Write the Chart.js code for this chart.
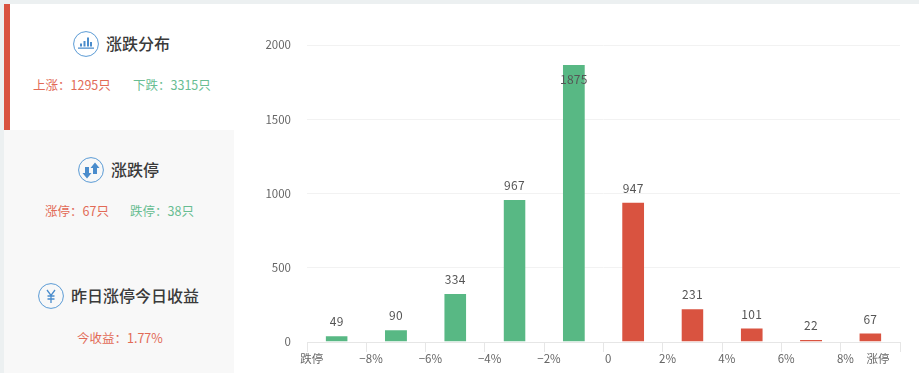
<!DOCTYPE html>
<html>
<head>
<meta charset="utf-8">
<script src="https://cdn.jsdelivr.net/npm/chart.js@4"></script>
<style>
    html, body { margin: 0; padding: 0; background: #fff; }
    body { position: relative; width: 919px; height: 373px; overflow: hidden; font-family: "Noto Sans CJK SC", sans-serif; }
    #topBar { position: absolute; left: 0; top: 0; width: 919px; height: 4px; background: #ecf0f1; }
    #leftBar { position: absolute; left: 0; top: 4px; width: 4px; height: 369px; background: #ecf0f1; }
    #redBar { position: absolute; left: 4px; top: 4px; width: 6px; height: 126px; background: #d95340; }
    #greyPanel { position: absolute; left: 4px; top: 130px; width: 230px; height: 243px; background: #f8f8f8; }
    .icon { position: absolute; width: 26px; height: 26px; }
    .title { position: absolute; font-size: 16px; line-height: 24px; font-weight: 500; color: #3a3a3a; white-space: nowrap; }
    .sub { position: absolute; font-size: 12.5px; line-height: 18px; white-space: nowrap; }
    .up { color: #e26a56; }
    .down { color: #68bd92; }
    #chartBox { position: absolute; left: 234px; top: 0; }
</style>
</head>
<body>
<div id="topBar"></div>
<div id="leftBar"></div>
<div id="greyPanel"></div>
<div id="redBar"></div>

<svg class="icon" style="left:73px;top:31px" viewBox="0 0 26 26">
    <circle cx="13" cy="13" r="12.4" fill="none" stroke="#5b9bd5" stroke-width="1"/>
    <path d="M5 16.500h16v1.300H5zM7 12.500h2v3H7zM10.500 10h2v5.500h-2zM14 6.500h2v9h-2zM17 11h2v4.500h-2z" fill="#4a8ccc"/>
</svg>
<div class="title" style="left:106px;top:31px">涨跌分布</div>
<div class="sub up" style="left:33px;top:76px">上涨：1295只</div>
<div class="sub down" style="left:133px;top:76px">下跌：3315只</div>

<svg class="icon" style="left:78px;top:157px" viewBox="0 0 26 26">
    <circle cx="13" cy="13" r="12.4" fill="none" stroke="#5b9bd5" stroke-width="1"/>
    <path d="M7 10h4v6h2.500l-4.500 5.500L4.500 16H7zM15 11H12.500L17 5.500 21.500 11H19v6h-4z" fill="#4a8ccc"/>
</svg>
<div class="title" style="left:111px;top:157px">涨跌停</div>
<div class="sub up" style="left:45px;top:202px">涨停：67只</div>
<div class="sub down" style="left:130px;top:202px">跌停：38只</div>

<svg class="icon" style="left:38px;top:283px" viewBox="0 0 26 26">
    <circle cx="13" cy="13" r="12.4" fill="none" stroke="#5b9bd5" stroke-width="1"/>
    <path d="M9 7l4 5.500L17 7M13 12.500V20M9.500 13h7M9.500 16h7" fill="none" stroke="#4a8ccc" stroke-width="1.300"/>
</svg>
<div class="title" style="left:71px;top:283px">昨日涨停今日收益</div>
<div class="sub up" style="left:77px;top:329px">今收益：1.77%</div>

<div id="chartBox"><canvas id="distChart" width="685" height="373"></canvas></div>

<script>
    // 数据
    const categories = ['跌停~-8%', '-8%~-6%', '-6%~-4%', '-4%~-2%', '-2%~0', '0~2%', '2%~4%', '4%~6%', '6%~8%', '8%~涨停'];
    const stockCounts = [49, 90, 334, 967, 1875, 947, 231, 101, 22, 67];
    const barColors = ['#58b884', '#58b884', '#58b884', '#58b884', '#58b884', '#d95340', '#d95340', '#d95340', '#d95340', '#d95340'];
    const xTickLabels = ['跌停', '−8%', '−6%', '−4%', '−2%', '0', '2%', '4%', '6%', '8%', '涨停'];

    // 数值标签：画在柱子上方，最高的一根放在柱子里面
    const valueLabels = {
        id: 'valueLabels',
        afterDatasetsDraw(chart) {
            const ctx = chart.ctx;
            const bars = chart.getDatasetMeta(0).data;
            ctx.save();
            ctx.font = '12px "Noto Sans CJK SC", sans-serif';
            ctx.letterSpacing = '0.3px';
            ctx.fillStyle = '#555';
            ctx.textAlign = 'center';
            ctx.textBaseline = 'middle';
            bars.forEach((bar, i) => {
                const inside = stockCounts[i] > 1500;
                ctx.fillText(stockCounts[i], bar.x, inside ? bar.y + 16 : bar.y - 13);
            });
            ctx.restore();
        }
    };

    new Chart(document.getElementById('distChart').getContext('2d'), {
        type: 'bar',
        data: {
            labels: categories,
            datasets: [{
                data: stockCounts,
                backgroundColor: barColors,
                barThickness: 22,
                // 原图柱顶比数值略低一点
                borderWidth: { top: 1.5, right: 0, bottom: 0, left: 0 },
                borderColor: 'rgba(0,0,0,0)',
                inflateAmount: 0
            }]
        },
        options: {
            responsive: false,
            animation: false,
            layout: { padding: { left: 0, right: 19, top: 45, bottom: 0 } },
            plugins: { legend: { display: false }, tooltip: { enabled: false } },
            scales: {
                x: {
                    grid: { offset: true, drawOnChartArea: false, color: '#e6e6e6', tickLength: 10 },
                    border: { color: '#e6e6e6' },
                    ticks: { display: false },
                    afterFit(scale) { scale.height = 10; }
                },
                // 刻度文字和刻度线不对齐，所以单独用一根轴来放文字
                xLabels: {
                    type: 'linear',
                    axis: 'x',
                    position: 'bottom',
                    offset: false,
                    min: 0,
                    max: 10,
                    grid: { display: false, drawTicks: false, tickLength: 0 },
                    border: { display: false },
                    ticks: {
                        autoSkip: false,
                        maxRotation: 0,
                        padding: 0,
                        color: '#666',
                        font: { size: 11.5, family: '"Noto Sans CJK SC", sans-serif' },
                        callback: (value, index) => xTickLabels[index]
                    },
                    afterBuildTicks(scale) {
                        scale.ticks = xTickLabels.map((label, i) => ({ value: i === 10 ? 9.63 : i + 0.08 }));
                    },
                    afterFit(scale) { scale.height = 21; }
                },
                y: {
                    min: 0,
                    max: 2000,
                    grid: { color: '#f2f2f2', drawTicks: false },
                    border: { display: false },
                    ticks: {
                        stepSize: 500,
                        padding: 16,
                        color: '#666',
                        font: { size: 11.5, family: '"Noto Sans CJK SC", sans-serif' },
                        callback: value => String(value)
                    },
                    afterFit(scale) { scale.width = 73; }
                }
            }
        },
        plugins: [valueLabels]
    });
</script>
</body>
</html>
